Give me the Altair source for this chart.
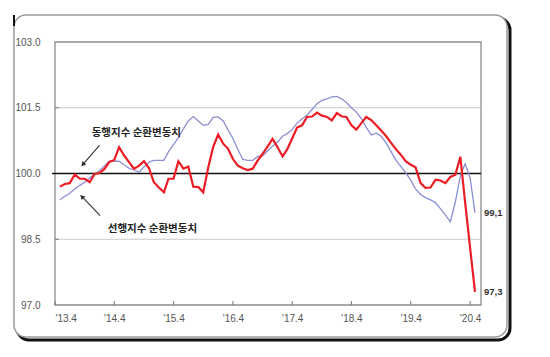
import altair as alt
import pandas as pd

# 동행지수 순환변동치 (coincident, red), 2013.05 ~ 2020.05
coincident = [
    99.70, 99.76, 99.78, 99.98, 99.88, 99.88, 99.80, 99.99, 100.01, 100.11,
    100.26, 100.31, 100.60, 100.41, 100.26, 100.11, 100.18, 100.28, 100.12, 99.80,
    99.68, 99.57, 99.88, 99.88, 100.28, 100.11, 100.16, 99.70, 99.69, 99.57,
    100.14, 100.60, 100.89, 100.68, 100.57, 100.33, 100.18, 100.12, 100.08, 100.11,
    100.30, 100.45, 100.62, 100.79, 100.60, 100.39, 100.55, 100.80, 101.05, 101.10,
    101.29, 101.30, 101.39, 101.32, 101.29, 101.21, 101.38, 101.30, 101.29, 101.10,
    101.00, 101.15, 101.29, 101.22, 101.10, 100.98, 100.85, 100.70, 100.55, 100.42,
    100.28, 100.20, 100.14, 99.78, 99.67, 99.68, 99.86, 99.84, 99.78, 99.92,
    99.97, 100.38, 99.35, 98.30, 97.30,
]
# 선행지수 순환변동치 (leading, blue)
leading = [
    99.40, 99.48, 99.55, 99.65, 99.73, 99.80, 99.90, 99.98, 100.07, 100.18,
    100.28, 100.28, 100.28, 100.20, 100.12, 100.08, 100.03, 100.15, 100.26, 100.30,
    100.30, 100.30, 100.50, 100.66, 100.82, 101.02, 101.20, 101.30, 101.20, 101.10,
    101.12, 101.28, 101.29, 101.20, 101.00, 100.80, 100.55, 100.32, 100.30, 100.30,
    100.39, 100.40, 100.52, 100.62, 100.72, 100.85, 100.91, 101.00, 101.15, 101.25,
    101.33, 101.46, 101.59, 101.67, 101.70, 101.75, 101.76, 101.70, 101.62, 101.50,
    101.40, 101.25, 101.05, 100.88, 100.92, 100.85, 100.70, 100.50, 100.30, 100.15,
    100.02, 99.85, 99.65, 99.52, 99.45, 99.40, 99.33, 99.20, 99.05, 98.90,
    99.35, 99.95, 100.22, 99.90, 99.10,
]

y_ticks = [97.0, 98.5, 100.0, 101.5, 103.0]
grid_values = [98.5, 101.5]
tick_years = list(range(2013, 2021))

label_coincident = "동행지수 순환변동치"
label_leading = "선행지수 순환변동치"

# monthly dates
dates = []
yy, mm = 2013, 5
for _ in range(len(coincident)):
    dates.append(f"{yy:04d}-{mm:02d}-01")
    mm += 1
    if mm > 12:
        mm = 1
        yy += 1

df = pd.DataFrame({"date": dates, "coincident": coincident, "leading": leading})

W, H = 426, 263
x_scale = alt.Scale(
    type="utc",
    domain=[alt.DateTime(year=2013, month=4, date=1, utc=True),
            alt.DateTime(year=2020, month=6, date=7, utc=True)],
)
y_scale = alt.Scale(domain=[97, 103], nice=False, zero=False)

x_axis = alt.Axis(
    values=[alt.DateTime(year=y, month=4, date=1, utc=True) for y in tick_years],
    labelExpr="\"'\" + utcFormat(datum.value, '%y') + '.4'",
    ticks=False, domain=False, grid=False,
    labelFont="Liberation Sans", labelFontSize=10, labelColor="#555555",
    labelPadding=8, labelAngle=0, title=None, zindex=2,
)
y_axis = alt.Axis(
    values=y_ticks, format=".1f", ticks=False, domain=False, grid=False,
    labelFont="Liberation Sans", labelFontSize=10, labelColor="#555555",
    labelPadding=15, title=None, zindex=2,
)


def X(field):
    return alt.X(field, scale=x_scale, axis=x_axis)


def Y(field):
    return alt.Y(field, scale=y_scale, axis=y_axis)


one = pd.DataFrame({"a": [0]})

# outer rounded frame (shadow + face)
shadow = alt.Chart(one).mark_rect(
    cornerRadius=12, fill="white", stroke="#111111", strokeWidth=3
).encode(x=alt.value(-38), x2=alt.value(455), y=alt.value(-24), y2=alt.value(298))
face = alt.Chart(one).mark_rect(
    cornerRadius=12, fill="white", stroke="#9a9a9a", strokeWidth=1.5
).encode(x=alt.value(-41), x2=alt.value(452), y=alt.value(-27), y2=alt.value(295))
corner_mark = alt.Chart(one).mark_rule(color="#111111", strokeWidth=2).encode(
    x=alt.value(-41), y=alt.value(-27), y2=alt.value(-16))

grid = alt.Chart(pd.DataFrame({"v": grid_values})).mark_rule(
    color="#c8c8c8", strokeWidth=1
).encode(y=Y("v:Q"))

yticks = alt.Chart(pd.DataFrame({"v": grid_values})).mark_rule(
    color="#777777", strokeWidth=1
).encode(y=Y("v:Q"), x=alt.value(0), x2=alt.value(4))

xtick_df = pd.DataFrame({"d": [f"{y}-04-01" for y in tick_years]})
xticks = alt.Chart(xtick_df).mark_rule(color="#777777", strokeWidth=1).encode(
    x=X("d:T"), y=alt.value(H), y2=alt.value(H - 4))

base_line = alt.Chart(pd.DataFrame({"v": [100.0]})).mark_rule(
    color="#111111", strokeWidth=1.6
).encode(y=Y("v:Q"), x=alt.value(-3), x2=alt.value(W))

plot_box = alt.Chart(one).mark_rect(
    fillOpacity=0, stroke="#8a8a8a", strokeWidth=1.3
).encode(x=alt.value(0), x2=alt.value(W), y=alt.value(0), y2=alt.value(H))

blue = alt.Chart(df).mark_line(color="#8b8fd3", strokeWidth=1.3).encode(
    x=X("date:T"), y=Y("leading:Q"))
red = alt.Chart(df).mark_line(color="#ec1c24", strokeWidth=2.2).encode(
    x=X("date:T"), y=Y("coincident:Q"))

end_df = pd.DataFrame({
    "date": [dates[-1], dates[-1]],
    "v": [leading[-1], coincident[-1]],
    "t": [f"{leading[-1]:.1f}".replace(".", ","), f"{coincident[-1]:.1f}".replace(".", ",")],
})
end_labels = alt.Chart(end_df).mark_text(
    align="left", baseline="middle", dx=9, fontSize=9.5, fontWeight="bold",
    font="Liberation Sans", color="#333333"
).encode(x=X("date:T"), y=Y("v:Q"), text="t:N")

ann_df = pd.DataFrame({
    "date": ["2014-08-15", "2014-11-22"],
    "v": [100.93, 98.74],
    "t": [label_coincident, label_leading],
})
annotations = alt.Chart(ann_df).mark_text(
    align="center", baseline="middle", fontSize=10.5, fontWeight="bold",
    font="Noto Sans CJK KR", color="#222222"
).encode(x=X("date:T"), y=Y("v:Q"), text="t:N")

arrow_df = pd.DataFrame({
    "d1": ["2013-12-31", "2014-01-04"],
    "v1": [100.64, 99.04],
    "d2": ["2013-09-23", "2013-09-17"],
    "v2": [100.22, 99.46],
    "ang": [221, 315],
})
arrow_lines = alt.Chart(arrow_df).mark_rule(color="#333333", strokeWidth=1.1).encode(
    x=X("d1:T"), x2="d2:T", y=Y("v1:Q"), y2="v2:Q")
arrow_heads = alt.Chart(arrow_df).mark_point(
    shape="triangle", filled=True, color="#333333", size=28, opacity=1
).encode(x=X("d2:T"), y=Y("v2:Q"), angle=alt.Angle("ang:Q", scale=None))

chart = alt.layer(
    shadow, face, corner_mark, plot_box, grid, yticks, xticks, base_line,
    blue, red, end_labels, annotations, arrow_lines, arrow_heads,
).properties(
    width=W, height=H,
    padding={"left": 55, "top": 42, "right": 69, "bottom": 52},
    autosize=alt.AutoSizeParams(type="none"),
    background="white",
).configure_view(strokeWidth=0)

chart.save("out.html", embed_options={"renderer": "svg", "actions": False})
